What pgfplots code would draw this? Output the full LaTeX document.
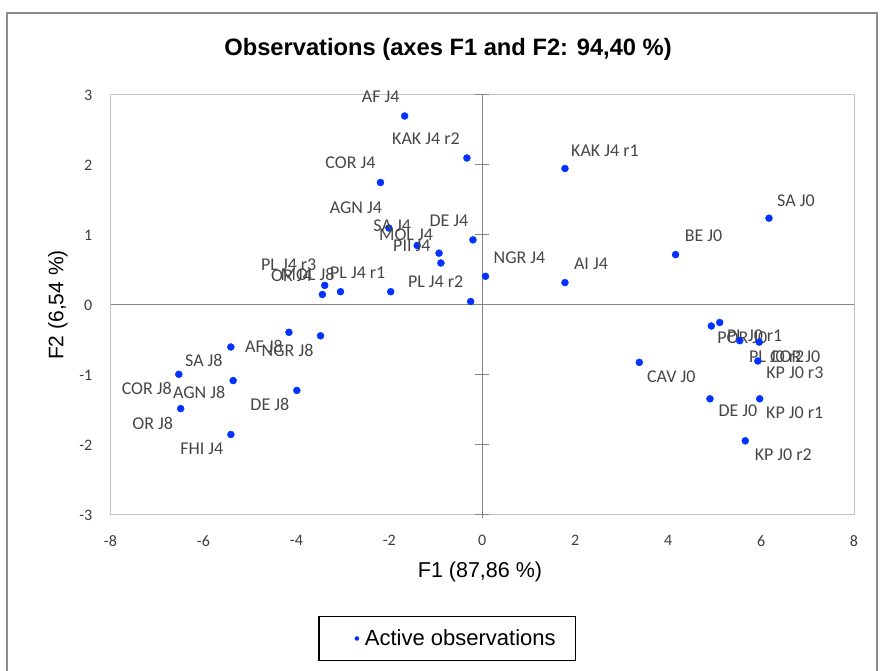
\documentclass[border=0pt]{standalone}
\usepackage{fontspec}
\setmainfont{Liberation Sans}
\newfontfamily\labfam{Carlito}
\usepackage{pgfplots}
\usepackage{pgfplotstable}
\pgfplotsset{compat=1.18}
\definecolor{ptblue}{RGB}{0,51,255}
\definecolor{framegray}{RGB}{140,140,140}
\definecolor{boxgray}{RGB}{195,195,195}
\definecolor{zerogray}{RGB}{134,134,134}
\definecolor{labgray}{RGB}{70,70,70}
\definecolor{tickgray}{RGB}{60,60,60}

\pgfplotstableread[col sep=comma]{
label,x,y,dx,dy
AF J4,-1.67,2.70,-24,19
KAK J4 r2,-0.33,2.10,-41,19
COR J4,-2.19,1.75,-30,20
AGN J4,-2.01,1.10,-33,20
SA J4,-1.40,0.85,-25,20
MOL J4,-0.93,0.74,-33,18
PII J4,-0.89,0.60,-29,17
DE J4,-0.20,0.93,-24,19
NGR J4,0.07,0.41,34,19
KAK J4 r1,1.78,1.95,40,18
AI J4,1.78,0.32,26,19
PL J4 r3,-3.39,0.28,-36,21
OR J4,-3.44,0.15,-31,19
MOL J8,-3.05,0.19,-33,17
PL J4 r1,-1.97,0.19,-33,19
PL J4 r2,-0.25,0.05,-35,20
AF J8,-4.16,-0.39,-25,-14
NGR J8,-3.48,-0.44,-33,-15
SA J8,-5.41,-0.60,-27,-13
COR J8,-6.53,-0.99,-32,-14
AGN J8,-5.36,-1.08,-34,-12
DE J8,-3.99,-1.22,-27,-14
OR J8,-6.49,-1.48,-28,-15
FHI J4,-5.41,-1.85,-29,-14
SA J0,6.17,1.24,27,17
BE J0,4.16,0.72,28,19
POR J0,4.93,-0.30,31,-12
PL J0 r1,5.11,-0.25,35,-13
PL J0 r2,5.54,-0.51,37,-16
COR J0,5.96,-0.53,36,-15
KP J0 r3,5.93,-0.80,37,-12
CAV J0,3.38,-0.82,32,-14
DE J0,4.90,-1.34,28,-12
KP J0 r1,5.97,-1.34,35,-14
KP J0 r2,5.66,-1.94,38,-14
}\obstable

\begin{document}
\begin{tikzpicture}[x=1pt,y=1pt]
\useasboundingbox (0,0) rectangle (880,671);
\draw[framegray, line width=1.2pt] (7,-10) -- (7,658) -- (877,658) -- (877,-10);
\begin{axis}[
  at={(110.5pt,156pt)}, anchor=south west,
  scale only axis, width=743.5pt, height=420pt,
  xmin=-8, xmax=8, ymin=-3, ymax=3,
  xtick={-8,-6,...,8}, ytick={-3,-2,...,3},
  major tick length=0pt,
  axis line style={boxgray, line width=1pt},
  /pgf/number format/assume math mode=true,
  tick label style={font=\labfam\fontsize{16}{18}\selectfont, text=tickgray},
  xticklabel style={anchor=north, inner sep=0pt, yshift=-20pt},
  yticklabel style={anchor=east, inner sep=0pt, xshift=-18pt},
  title={Observations (axes F1 and F2: 94,40 \%)},
  title style={at={(0.454,1.0952)}, anchor=center, font=\bfseries\fontsize{23.7}{26}\selectfont},
  xlabel={F1 (87,86 \%)},
  xlabel style={at={(axis description cs:0.497,-0.1357)}, anchor=center, font=\fontsize{21.5}{24}\selectfont},
  ylabel={F2 (6,54 \%)},
  ylabel style={at={(axis description cs:-0.0706,0.5)}, anchor=center, rotate=0, font=\fontsize{21}{24}\selectfont},
  clip=false,
  legend style={at={(0.453,-0.294)}, anchor=center, draw=black, line width=1.2pt,
    inner xsep=18pt, inner ysep=11pt, font=\fontsize{22}{25}\selectfont},
  legend image code/.code={\path[draw=none,fill=none] (-20pt,0) -- (6pt,0); \fill[ptblue,draw=none] (0,0) circle (2.3pt);},
]
\draw[zerogray, line width=1pt] (axis cs:-8,0) -- (axis cs:8,0);
\draw[zerogray, line width=1pt] (axis cs:0,-3.05) -- (axis cs:0,3);
\pgfplotsinvokeforeach{-3,-2,-1,1,2,3}{
  \draw[zerogray, line width=1pt] (axis cs:-0.15,#1) -- (axis cs:0.15,#1);
}
\addplot[only marks, mark=*, mark size=3.5pt, color=ptblue,
  nodes near coords, point meta=explicit symbolic,
  visualization depends on={\thisrow{dx}\as\ldx},
  visualization depends on={\thisrow{dy}\as\ldy},
  every node near coord/.append style={anchor=center, inner sep=0pt,
    xshift=\ldx pt, yshift=\ldy pt, text=labgray,
    font=\labfam\fontsize{18}{20}\selectfont}]
  table[x=x, y=y, meta=label] {\obstable};
\addlegendentry{Active observations}
\end{axis}
\end{tikzpicture}
\end{document}
